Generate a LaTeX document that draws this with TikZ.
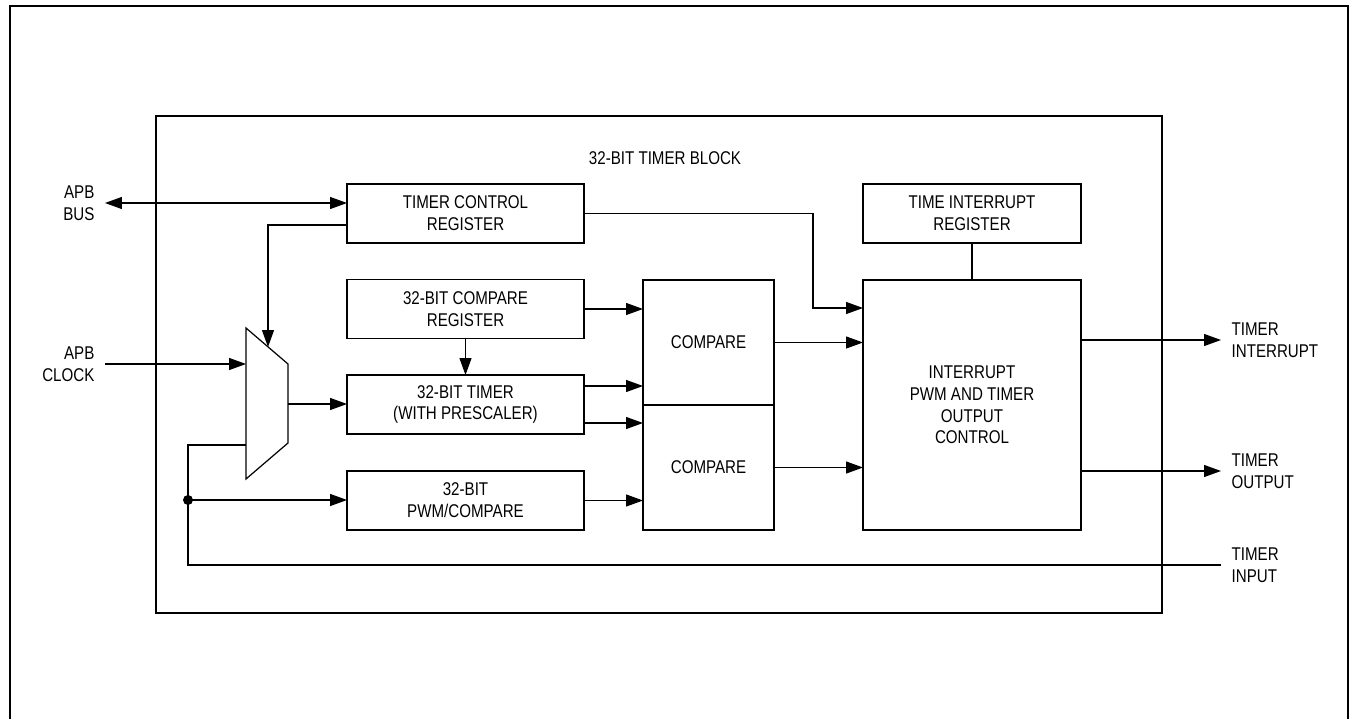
\documentclass[tikz,border=0pt]{standalone}
\usepackage{fontspec}
\setmainfont[FakeStretch=0.82]{Liberation Sans}
\usetikzlibrary{arrows.meta}
\tikzset{
  blk_font/.style = {font=\fontsize{10.5}{12.4}\selectfont},
  blk_n/.style = {blk_font, draw, rectangle, align=center, inner sep=0pt, outer sep=0pt,
                  minimum width=4.74cm, minimum height=1.18cm},
  blk_c/.style = {blk_n, minimum width=2.62cm, minimum height=2.5cm},
  blk_outer/.style = {draw, rectangle, inner sep=0pt, outer sep=0pt,
                  minimum width=20.12cm, minimum height=9.94cm},
  io_l/.style = {blk_font, align=right, anchor=east, inner sep=0pt, inner xsep=0.2cm},
  io_r/.style = {blk_font, align=left, anchor=west, inner sep=0pt, inner xsep=0.2cm},
  dot/.style = {circle, fill=black, inner sep=0pt, minimum size=0.2cm},
  arr/.style = {-{Triangle[length=0.34cm,width=0.24cm]}},
  arr_b/.style = {{Triangle[length=0.34cm,width=0.24cm]}-{Triangle[length=0.34cm,width=0.24cm]}}
}
\begin{document}
\begin{tikzpicture}[x=0.02cm, y=-0.02cm, line width=0.7pt]
\useasboundingbox (0,0) rectangle (1351,719);
% page frame
\draw[line width=1.3pt] (10,719) -- (10,6) -- (1348,6) -- (1348,719);
\node[blk_outer] (tblock) at (659,364.5) {};
\node[blk_font] (ttl) at (665,158) {32-BIT TIMER BLOCK};

% blocks
\node[blk_n] (tcr) at (465.5,213.5) {TIMER CONTROL\\REGISTER};
\node[blk_n] (cmpreg) at (465.5,309) {32-BIT COMPARE\\REGISTER};
\node[blk_n] (tmr) at (465.5,404.5) {32-BIT TIMER\\(WITH PRESCALER)};
\node[blk_n] (pwm) at (465.5,500.5) {32-BIT\\PWM/COMPARE};
\node[blk_c] (cmpA) at (708.5,342.5) {COMPARE};
\node[blk_c] (cmpB) at (708.5,467.5) {COMPARE};
\node[blk_n, minimum width=4.36cm] (tir) at (972,213.5) {TIME INTERRUPT\\REGISTER};
\node[blk_n, minimum width=4.36cm, minimum height=5cm] (ctl) at (972,405)
	{INTERRUPT\\PWM AND TIMER\\OUTPUT\\CONTROL};

% mux
\draw (246,328) -- (288,364) -- (288,443) -- (246,479) -- cycle;
\coordinate (mux_sel) at (268,347);
\coordinate (mux_in1) at (246,364);
\coordinate (mux_in2) at (246,445);
\coordinate (mux_out) at (288,404);
\node[dot] (jn) at (188,500) {};

% inputs and outputs
\node[io_l] (apbbus) at (105,203) {APB\\BUS};
\node[io_l] (apbclk) at (105,364) {APB\\CLOCK};
\node[io_r] (tint) at (1221,340) {TIMER\\INTERRUPT};
\node[io_r] (tout) at (1221,471) {TIMER\\OUTPUT};
\node[io_r] (tin) at (1221,565) {TIMER\\INPUT};

% connections
\draw[arr_b] (apbbus.east) -- (tcr.west |- apbbus.east);
\draw[arr] (tcr.west |- 0,225) -| (mux_sel);
\draw[arr] (apbclk.east) -- (mux_in1);
\draw[arr] (mux_out) -- (tmr.west |- mux_out);
\draw (mux_in2) -| (jn.center);
\draw (jn.center) |- (tin.west);
\draw[arr] (jn.center) -- (pwm.west |- jn.center);
\draw[arr] (cmpreg.south) -- (tmr.north);
\draw[arr] (cmpreg.east) -- (cmpreg.east -| cmpA.west);
\draw[arr] (tmr.east |- 0,386) -- (cmpA.west |- 0,386);
\draw[arr] (tmr.east |- 0,423) -- (cmpB.west |- 0,423);
\draw[arr] (pwm.east) -- (pwm.east -| cmpB.west);
\draw[arr] (cmpA.east) -- (cmpA.east -| ctl.west);
\draw[arr] (cmpB.east) -- (cmpB.east -| ctl.west);
\draw[arr] (tcr.east) -| (813,308) -- (ctl.west |- 0,308);
\draw (tir.south) -- (ctl.north);
\draw[arr] (ctl.east |- tint.west) -- (tint.west);
\draw[arr] (ctl.east |- tout.west) -- (tout.west);
\end{tikzpicture}
\end{document}
